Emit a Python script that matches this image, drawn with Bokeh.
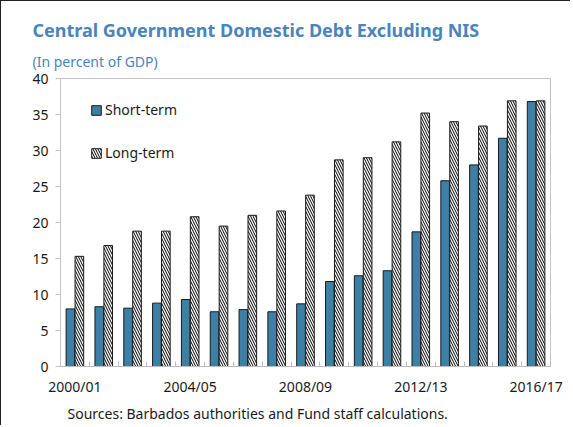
from bokeh.plotting import figure
from bokeh.models import (ColumnDataSource, FixedTicker, Legend, LegendItem, Title)
from bokeh.transform import dodge
from bokeh.embed import file_html
from bokeh.resources import INLINE

categories = ["2000/01", "2001/02", "2002/03", "2003/04", "2004/05", "2005/06",
              "2006/07", "2007/08", "2008/09", "2009/10", "2010/11", "2011/12",
              "2012/13", "2013/14", "2014/15", "2015/16", "2016/17"]
short_term = [8.0, 8.3, 8.1, 8.8, 9.3, 7.6, 7.9, 7.6, 8.7, 11.8, 12.6, 13.3,
              18.7, 25.8, 28.0, 31.7, 36.8]
long_term = [15.3, 16.8, 18.8, 18.8, 20.8, 19.5, 21.0, 21.6, 23.8, 28.7, 29.0,
             31.2, 35.2, 34.0, 33.4, 36.9, 36.9]
shown_labels = ["2000/01", "2004/05", "2008/09", "2012/13", "2016/17"]
y_ticks = [0, 5, 10, 15, 20, 25, 30, 35, 40]

FONT = "Noto Sans"
BLUE = "#3e7fa6"
TITLE_BLUE = "#4a84bc"

idx = list(range(len(categories)))
src = ColumnDataSource(dict(x=idx, short=short_term, long=long_term, cat=categories))

p = figure(frame_width=490, frame_height=288, output_backend="svg", toolbar_location=None,
           title=None, x_range=(-0.5, len(categories) - 0.5), y_range=(0, 40),
           min_border_left=59, min_border_right=20, min_border_top=77,
           min_border_bottom=5)
p.styles = {"border-left": "1px solid #222", "border-top": "1px solid #222"}

r1 = p.vbar(x=dodge("x", -0.155, range=p.x_range), top="short", width=0.3, source=src,
            fill_color=BLUE, line_color="#1a1a1a", line_width=1)
r2 = p.vbar(x=dodge("x", 0.155, range=p.x_range), top="long", width=0.3, source=src,
            fill_color="white", line_color="#1a1a1a", line_width=1,
            hatch_pattern="\\", hatch_color="black", hatch_scale=5, hatch_weight=1)

# axes
p.xgrid.visible = False
p.ygrid.visible = False
p.outline_line_color = "#c4c4c4"
p.outline_line_width = 1

p.yaxis.ticker = FixedTicker(ticks=y_ticks)
p.yaxis.axis_line_color = "#c4c4c4"
p.yaxis.major_tick_line_color = "#c4c4c4"
p.yaxis.major_tick_out = 5
p.yaxis.major_tick_in = 0
p.yaxis.minor_tick_line_color = None
p.yaxis.major_label_text_font = FONT
p.yaxis.major_label_text_font_size = "14px"
p.yaxis.major_label_text_color = "#1a1a1a"
p.yaxis.major_label_standoff = 7

label_pos = [categories.index(c) for c in shown_labels]
p.xaxis.ticker = FixedTicker(ticks=label_pos,
                             minor_ticks=[i - 0.5 for i in range(len(categories) + 1)])
p.xaxis.major_label_overrides = {i: categories[i] for i in label_pos}
p.xaxis.axis_line_color = "#bdbdbd"
p.xaxis.major_tick_line_color = None
p.xaxis.minor_tick_line_color = "#bdbdbd"
p.xaxis.minor_tick_in = 5
p.xaxis.minor_tick_out = 0
p.xaxis.major_label_text_font = FONT
p.xaxis.major_label_text_font_size = "14px"
p.xaxis.major_label_text_color = "#1a1a1a"
p.xaxis.major_label_standoff = 4

# legend
legend = Legend(items=[LegendItem(label="Short-term", renderers=[r1]),
                       LegendItem(label="Long-term", renderers=[r2])],
                location=(30, 204), orientation="vertical",
                glyph_width=12, glyph_height=12, label_height=16,
                spacing=24, padding=0, border_line_color=None,
                background_fill_alpha=0, label_text_font=FONT,
                label_text_font_size="14px", label_text_color="#1a1a1a",
                label_standoff=3)
p.add_layout(legend, "center")

# titles
sub = Title(text="(In percent of GDP)", align="left", offset=-28,
            text_font=FONT, text_font_size="14px", text_font_style="normal",
            text_color=TITLE_BLUE, standoff=16)
p.add_layout(sub, "above")
main = Title(text="Central Government Domestic Debt Excluding NIS", align="left",
             offset=-28, text_font=FONT, text_font_size="18px",
             text_font_style="bold", text_color=TITLE_BLUE, standoff=0)
p.add_layout(main, "above")

foot = Title(text="Sources: Barbados authorities and Fund staff calculations.",
             align="left", offset=7, text_font=FONT, text_font_size="14px",
             text_font_style="normal", text_color="#1a1a1a", standoff=6)
p.add_layout(foot, "below")

open("out.html", "w").write(file_html(p, INLINE))
